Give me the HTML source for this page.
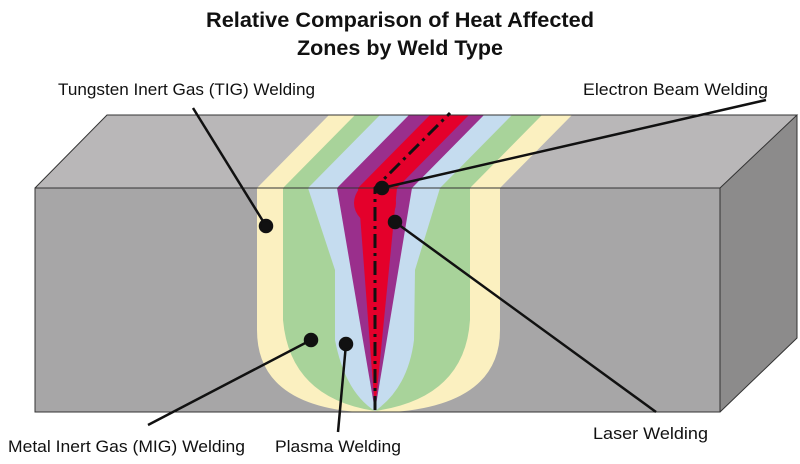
<!DOCTYPE html>
<html><head><meta charset="utf-8"><style>
html,body{margin:0;padding:0;background:#fff;}
svg{display:block}
text{font-family:"Liberation Sans Narrow","Liberation Sans",sans-serif;fill:#111;}
</style></head><body>
<svg width="800" height="464" viewBox="0 0 800 464" xmlns="http://www.w3.org/2000/svg">
<defs>
<clipPath id="top"><polygon points="35,188 720,188 797,115 107,115"/></clipPath>
<clipPath id="front"><rect x="35" y="188" width="685" height="224"/></clipPath>
</defs>
<text x="400" y="27" font-size="21" font-weight="bold" text-anchor="middle" textLength="388" lengthAdjust="spacingAndGlyphs">Relative Comparison of Heat Affected</text>
<text x="400" y="55" font-size="21" font-weight="bold" text-anchor="middle" textLength="206" lengthAdjust="spacingAndGlyphs">Zones by Weld Type</text>

<polygon points="35,188 720,188 797,115 107,115" fill="#b9b7b8"/>
<polygon points="720,188 797,115 797,338 720,412" fill="#8c8b8b"/>
<rect x="35" y="188" width="685" height="224" fill="#a7a6a7"/>

<g clip-path="url(#top)">
<polygon points="257,188 500,188 572,115 329,115" fill="#fbf0c0"/>
<polygon points="283,188 470,188 542,115 355,115" fill="#a8d39a"/>
<polygon points="308,188 440,188 512,115 380,115" fill="#c5dcef"/>
<polygon points="337,188 412,188 484,115 409,115" fill="#9a2f8c"/>
<polygon points="358,188 397,188 469,115 430,115" fill="#e4002b"/>
</g>
<g clip-path="url(#front)">
<path d="M257,188 L257,330 Q257,410 375,413 Q500,410 500,330 L500,188Z" fill="#fbf0c0"/>
<path d="M283,188 L283,320 Q290,398 375,411 Q465,398 470,320 L470,188Z" fill="#a8d39a"/>
<path d="M308,188 L335,270 L335,340 Q345,392 375,411 Q408,388 414,340 L415,270 L440,188Z" fill="#c5dcef"/>
<path d="M337,188 L375,411 L412,188Z" fill="#9a2f8c"/>
<path d="M358,188 L375,411 L397,188Z" fill="#e4002b"/>
<circle cx="375" cy="203" r="21" fill="#e4002b"/>
</g>
<g stroke="#333" stroke-width="1" fill="none">
<polygon points="35,188 720,188 720,412 35,412"/>
<polyline points="35,188 107,115 797,115 720,188"/>
<polyline points="797,115 797,338 720,412"/>
</g>
<path d="M375,410 L375,188 L450,113" stroke="#111" stroke-width="3" fill="none" stroke-dasharray="14,5,3,5"/>

<g stroke="#111" stroke-width="2.5" fill="#111">
<line x1="193" y1="108" x2="266" y2="226"/><circle cx="266" cy="226" r="6"/>
<line x1="766" y1="100" x2="382" y2="188"/><circle cx="382" cy="188" r="6"/>
<line x1="395" y1="222" x2="656" y2="412"/><circle cx="395" cy="222" r="6"/>
<line x1="311" y1="340" x2="148" y2="425"/><circle cx="311" cy="340" r="6"/>
<line x1="346" y1="344" x2="338" y2="432"/><circle cx="346" cy="344" r="6"/>
</g>

<text x="58" y="95" font-size="17" textLength="257" lengthAdjust="spacingAndGlyphs">Tungsten Inert Gas (TIG) Welding</text>
<text x="583" y="95" font-size="17" textLength="185" lengthAdjust="spacingAndGlyphs">Electron Beam Welding</text>
<text x="593" y="439" font-size="17" textLength="115" lengthAdjust="spacingAndGlyphs">Laser Welding</text>
<text x="8" y="452" font-size="17" textLength="237" lengthAdjust="spacingAndGlyphs">Metal Inert Gas (MIG) Welding</text>
<text x="275" y="452" font-size="17" textLength="126" lengthAdjust="spacingAndGlyphs">Plasma Welding</text>
</svg>
</body></html>
